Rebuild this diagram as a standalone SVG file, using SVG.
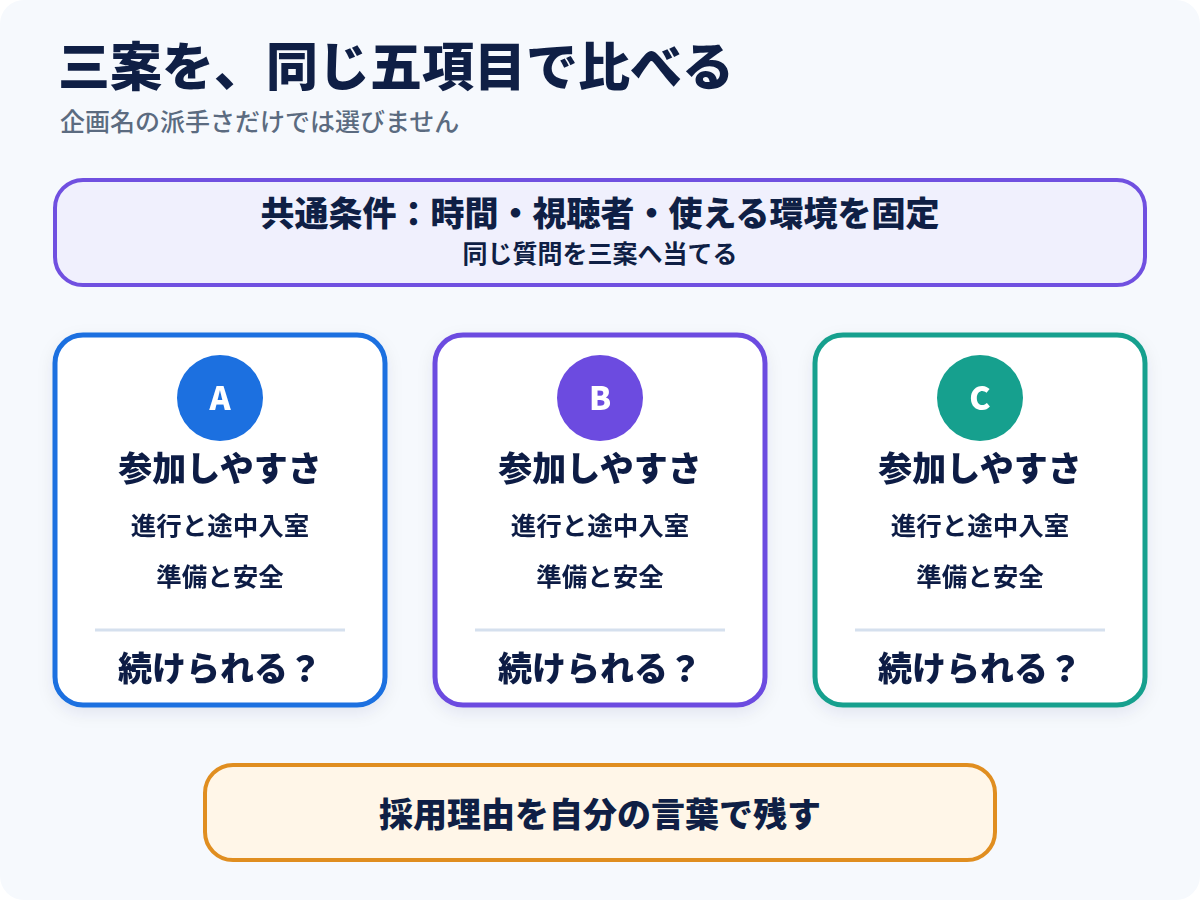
<svg xmlns="http://www.w3.org/2000/svg" width="1200" height="900" viewBox="0 0 1200 900">
<defs>
<filter id="sh" x="-10%" y="-10%" width="120%" height="125%">
<feDropShadow dx="0" dy="6" stdDeviation="8" flood-color="#1a2a60" flood-opacity="0.08"/>
</filter>
<style>
text{font-family:"Noto Sans CJK JP","Noto Sans",sans-serif;fill:#0f1f45;text-anchor:middle}
.title{font-size:52px;font-weight:900;text-anchor:start}
.sub{font-size:25px;font-weight:500;fill:#5b6b80;text-anchor:start}
.h{font-size:34px;font-weight:900}
.m{font-size:25.5px;font-weight:700}
.letter{font-size:32px;font-weight:900;fill:#ffffff}
.card{fill:#ffffff;stroke-width:5}
.div{stroke:#d5e0ee;stroke-width:3}
</style>
</defs>
<rect x="0" y="0" width="1200" height="900" rx="24" fill="#f6f9fd"/>
<g id="header">
<text class="title" x="58" y="86">三案を、同じ五項目で比べる</text>
<text class="sub" x="60" y="131">企画名の派手さだけでは選びません</text>
</g>
<g id="common">
<rect x="55" y="180" width="1090" height="105" rx="28" fill="#f0f0fd" stroke="#7050e0" stroke-width="4"/>
<text x="600" y="226" style="font-size:34px;font-weight:900">共通条件：時間・視聴者・使える環境を固定</text>
<text x="600" y="263" style="font-size:25px;font-weight:700">同じ質問を三案へ当てる</text>
</g>
<g id="cardA" filter="url(#sh)">
<rect class="card" x="55" y="335" width="330" height="370" rx="28" stroke="#1a6fe0"/>
<circle cx="220" cy="398" r="43" fill="#1a6fe0"/>
<text class="letter" x="220" y="410">A</text>
<text class="h" x="220" y="481">参加しやすさ</text>
<text class="m" x="220" y="535">進行と途中入室</text>
<text class="m" x="220" y="586">準備と安全</text>
<line class="div" x1="95" y1="630" x2="345" y2="630"/>
<text class="h" x="220" y="681">続けられる？</text>
</g>
<g id="cardB" filter="url(#sh)">
<rect class="card" x="435" y="335" width="330" height="370" rx="28" stroke="#6c4be0"/>
<circle cx="600" cy="398" r="43" fill="#6c4be0"/>
<text class="letter" x="600" y="410">B</text>
<text class="h" x="600" y="481">参加しやすさ</text>
<text class="m" x="600" y="535">進行と途中入室</text>
<text class="m" x="600" y="586">準備と安全</text>
<line class="div" x1="475" y1="630" x2="725" y2="630"/>
<text class="h" x="600" y="681">続けられる？</text>
</g>
<g id="cardC" filter="url(#sh)">
<rect class="card" x="815" y="335" width="330" height="370" rx="28" stroke="#16a08e"/>
<circle cx="980" cy="398" r="43" fill="#16a08e"/>
<text class="letter" x="980" y="410">C</text>
<text class="h" x="980" y="481">参加しやすさ</text>
<text class="m" x="980" y="535">進行と途中入室</text>
<text class="m" x="980" y="586">準備と安全</text>
<line class="div" x1="855" y1="630" x2="1105" y2="630"/>
<text class="h" x="980" y="681">続けられる？</text>
</g>
<g id="connectors"></g>
<g id="result">
<rect x="205" y="765" width="790" height="95" rx="28" fill="#fff6e8" stroke="#e08e20" stroke-width="4"/>
<text x="600" y="827" style="font-size:34px;font-weight:900">採用理由を自分の言葉で残す</text>
</g>
</svg>
